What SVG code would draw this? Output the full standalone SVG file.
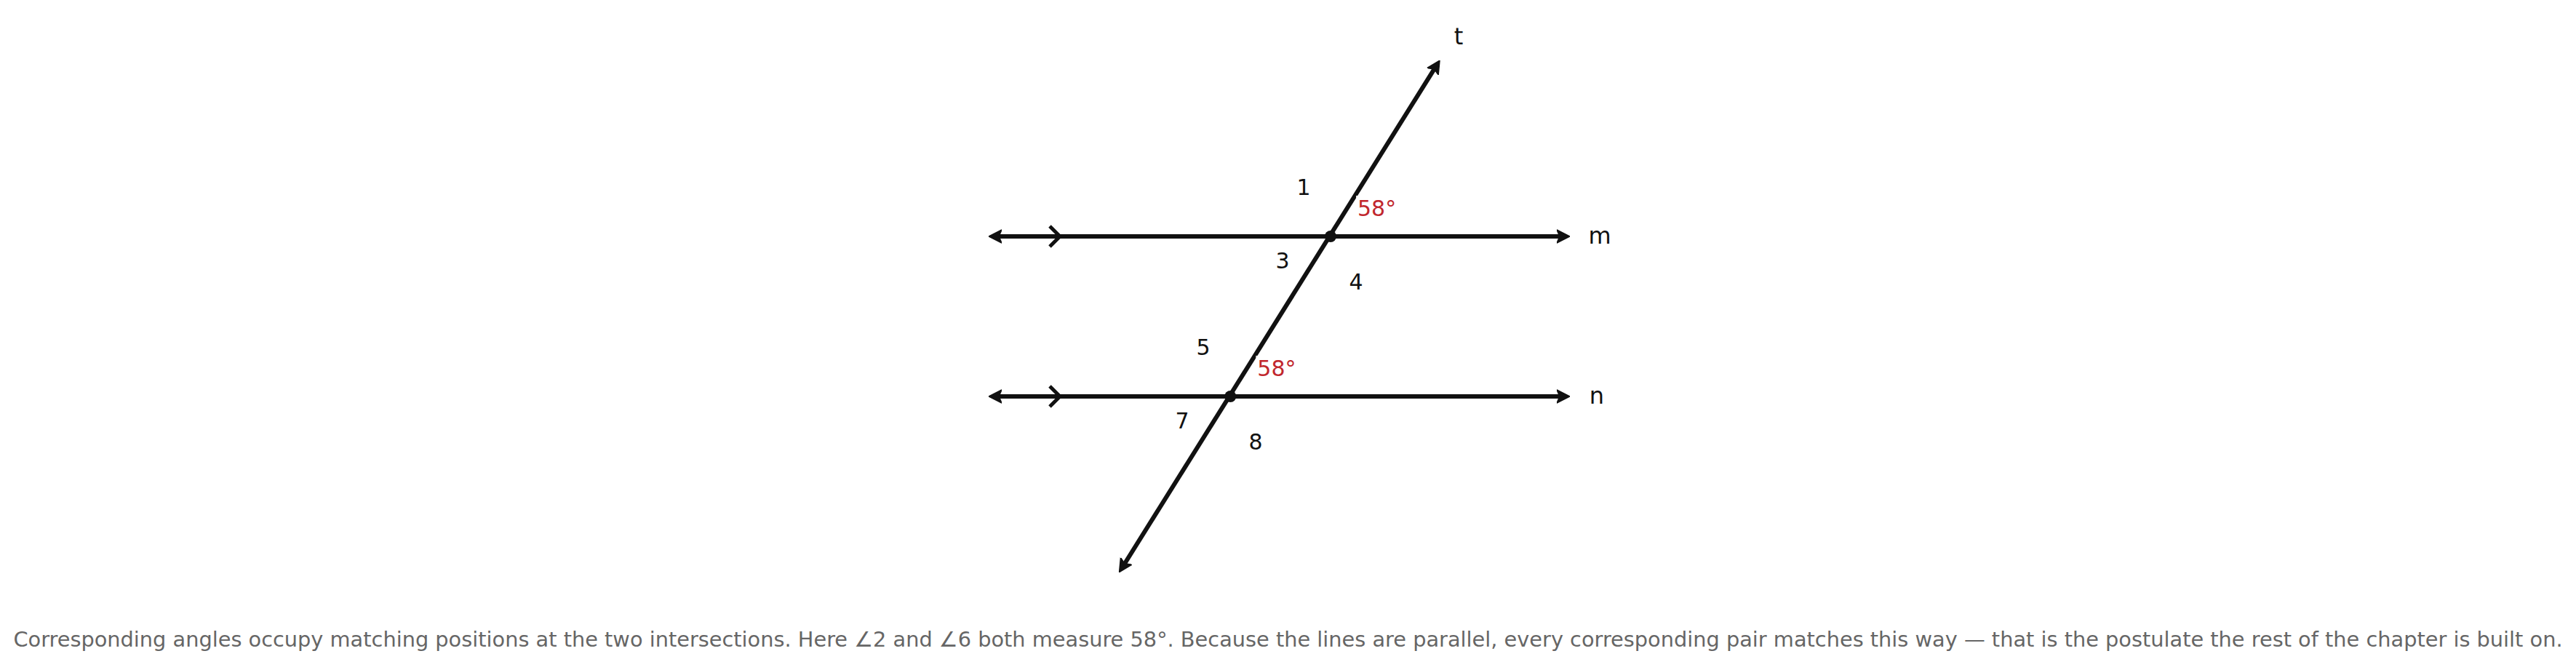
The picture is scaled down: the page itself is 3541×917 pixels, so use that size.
<svg xmlns="http://www.w3.org/2000/svg" width="3541" height="917" viewBox="0 0 3541 917">
<style>
.ln{stroke:#111;stroke-width:6;fill:none}
.chev{stroke:#111;stroke-width:5;fill:none}
.dot{fill:#111}
.lbl{font-family:"DejaVu Sans",sans-serif;font-size:30px;fill:#111;text-anchor:middle}
.name{font-family:"DejaVu Sans",sans-serif;font-size:32px;fill:#111;text-anchor:middle}
.ang{font-family:"DejaVu Sans",sans-serif;font-size:30px;fill:#c1272d}
.bg{fill:#fff;fill-opacity:0.85}
.cap{font-family:"DejaVu Sans",sans-serif;font-size:28.8px;fill:#666;text-anchor:middle}
</style>
<defs>
<marker id="ah" viewBox="0 -10 18 20" markerWidth="18" markerHeight="20" refX="4" refY="0" orient="auto-start-reverse" markerUnits="userSpaceOnUse">
<path d="M0,-9 L18,0 L0,9 L4,0 Z" fill="#111" stroke="#111" stroke-width="1.5" stroke-linejoin="round"/>
</marker>
</defs>
<rect width="3541" height="917" fill="#fff"/>
<g id="connectors">
<path id="line-m" class="ln" d="M1373,325 L2144,325" marker-start="url(#ah)" marker-end="url(#ah)"/>
<path id="line-n" class="ln" d="M1373,545 L2144,545" marker-start="url(#ah)" marker-end="url(#ah)"/>
<path id="line-t" class="ln" d="M1546,774.8 L1971.6,94.9" marker-start="url(#ah)" marker-end="url(#ah)"/>
<path class="chev" d="M1443,311 L1457,325 L1443,339"/>
<path class="chev" d="M1443,531 L1457,545 L1443,559"/>
</g>
<g id="intersection-m">
<circle class="dot" cx="1829" cy="325" r="8"/>
<text class="lbl" x="1792" y="268">1</text>
<rect class="bg" x="1864" y="269" width="58" height="34"/>
<text class="ang" x="1866" y="297">58°</text>
<text class="lbl" x="1763" y="369">3</text>
<text class="lbl" x="1864" y="398">4</text>
</g>
<g id="intersection-n">
<circle class="dot" cx="1691.3" cy="545" r="8"/>
<text class="lbl" x="1654" y="488">5</text>
<rect class="bg" x="1726.3" y="489" width="58" height="34"/>
<text class="ang" x="1728.3" y="517">58°</text>
<text class="lbl" x="1625" y="589">7</text>
<text class="lbl" x="1726" y="618">8</text>
</g>
<g id="label-t"><text class="name" x="2005" y="61">t</text></g>
<g id="label-m"><text class="name" x="2199" y="335">m</text></g>
<g id="label-n"><text class="name" x="2195" y="555">n</text></g>
<g id="caption">
<text class="cap" x="1770.5" y="889">Corresponding angles occupy matching positions at the two intersections. Here ∠2 and ∠6 both measure 58°. Because the lines are parallel, every corresponding pair matches this way — that is the postulate the rest of the chapter is built on.</text>
</g>
</svg>
